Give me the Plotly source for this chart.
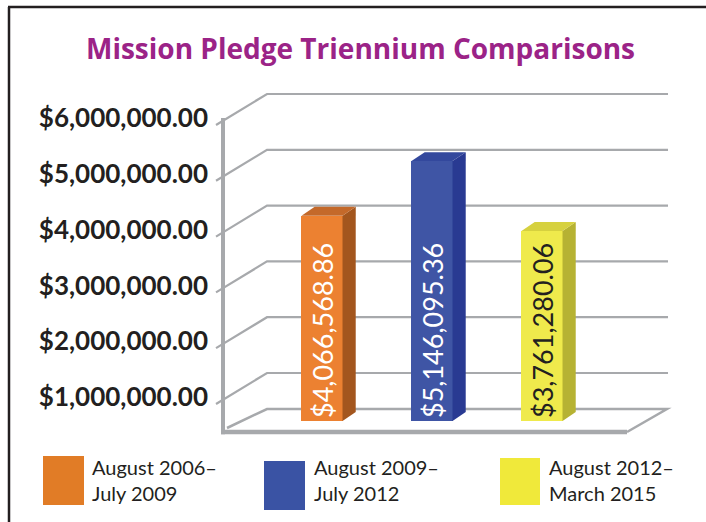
import plotly.graph_objects as go

# ---------------- data ----------------
TITLE = "Mission Pledge Triennium Comparisons"
PERIODS = ["August 2006–July 2009", "August 2009–July 2012", "August 2012–March 2015"]
LEGEND_LABELS = ["August 2006–<br>July 2009", "August 2009–<br>July 2012", "August 2012–<br>March 2015"]
PLEDGES = [4066568.86, 5146095.36, 3761280.06]
TICK_VALUES = [1e6, 2e6, 3e6, 4e6, 5e6, 6e6]

# ---------------- styles ----------------
FRONT_COLORS = ["#EC8131", "#3F55A5", "#EFEA4C"]
SIDE_COLORS = ["#A3561E", "#293A92", "#B6B233"]
TOP_COLORS = ["#C4692A", "#33489D", "#D6D13F"]
LEGEND_COLORS = ["#E17C26", "#3A53A4", "#F0E93A"]
TEXT_COLORS = ["#FFFFFF", "#FFFFFF", "#231F20"]
GRID_COLOR = "#A7A9AC"
INK = "#231F20"
TITLE_COLOR = "#9B2387"

W, H = 706, 522
X_RANGE = [-2.9273, 3.4909]          # 110 px per category
Y_RANGE = [-2.0e6, 8.3366e6]         # bar scale
Y2_RANGE = [-1.2401e6, 8.1147e6]     # wall / tick scale
BAR_WIDTH = 0.373
DEPTH_X = 0.12
DEPTH_Y = 0.178e6

# wall geometry (x in category units, y in y2 units)
TICK_X0, BACK_X0, BACK_X1 = -0.9636, -0.5, 3.1455
BACK_DY, TICK_DY = 0.43e6, -0.125e6
WALL_X = -0.9
FLOOR_FRONT, FLOOR_BACK, FLOOR_LEFT = 0.3728e6, 0.7849e6, 0.4444e6
FLOOR_X0, FLOOR_XL, FLOOR_X1, FLOOR_XR = -0.918, -0.8636, 2.7727, 3.136

xs = list(range(len(PERIODS)))

fig = go.Figure()

# front faces
fig.add_trace(go.Bar(
    x=xs, y=PLEDGES, width=BAR_WIDTH,
    marker=dict(color=FRONT_COLORS, line=dict(width=0)),
    text=[f"${v:,.2f}" for v in PLEDGES],
    textposition="inside", insidetextanchor="start", textangle=-90,
    insidetextfont=dict(family="Lato", size=27, color=TEXT_COLORS),
    hoverinfo="skip", showlegend=False, cliponaxis=False,
))

# side and top faces
for i, (x, v) in enumerate(zip(xs, PLEDGES)):
    r = x + BAR_WIDTH / 2
    l = x - BAR_WIDTH / 2
    fig.add_trace(go.Scatter(
        x=[r, r + DEPTH_X, r + DEPTH_X, r, r],
        y=[0, DEPTH_Y, v + DEPTH_Y, v, 0],
        fill="toself", fillcolor=SIDE_COLORS[i], mode="lines",
        line=dict(width=0), hoverinfo="skip", showlegend=False))
    fig.add_trace(go.Scatter(
        x=[l, l + DEPTH_X, r + DEPTH_X, r, l],
        y=[v, v + DEPTH_Y, v + DEPTH_Y, v, v],
        fill="toself", fillcolor=TOP_COLORS[i], mode="lines",
        line=dict(width=0), hoverinfo="skip", showlegend=False))

shapes = []
# gridlines on the back wall with slanted connectors
for t in TICK_VALUES:
    shapes.append(dict(
        type="path", xref="x", yref="y2", layer="below",
        path=f"M {TICK_X0},{t + TICK_DY} L {BACK_X0},{t + BACK_DY} L {BACK_X1},{t + BACK_DY}",
        line=dict(color=GRID_COLOR, width=2.2)))
# floor
shapes.append(dict(
    type="path", xref="x", yref="y2", layer="below",
    path=(f"M {FLOOR_XL},{FLOOR_LEFT} L {BACK_X0},{FLOOR_BACK} L {FLOOR_XR},{FLOOR_BACK} "
          f"L {FLOOR_X1},{FLOOR_FRONT}"),
    line=dict(color=GRID_COLOR, width=2.5)))
shapes.append(dict(
    type="line", xref="x", yref="y2", layer="below",
    x0=FLOOR_X0, x1=FLOOR_X1, y0=FLOOR_FRONT, y1=FLOOR_FRONT,
    line=dict(color=GRID_COLOR, width=4.5)))
# left wall
shapes.append(dict(
    type="line", xref="x", yref="y2", layer="below",
    x0=WALL_X, x1=WALL_X, y0=FLOOR_FRONT - 0.04e6, y1=TICK_VALUES[-1],
    line=dict(color=GRID_COLOR, width=4)))
# frame
shapes.append(dict(type="line", xref="paper", yref="paper",
                   x0=8 / W, x1=1, y0=1 - 7 / H, y1=1 - 7 / H,
                   line=dict(color=INK, width=2.5)))
shapes.append(dict(type="line", xref="paper", yref="paper",
                   x0=9 / W, x1=9 / W, y0=0, y1=1 - 7 / H,
                   line=dict(color=INK, width=2.5)))

# legend swatches
SW_BOX = [(43, 456, 84, 505), (264, 461, 305, 510), (500, 458, 540, 505)]
TXT_X = [90, 312, 547]
annotations = []
for i, lab in enumerate(LEGEND_LABELS):
    x0, y0, x1, y1 = SW_BOX[i]
    shapes.append(dict(type="rect", xref="paper", yref="paper",
                       x0=x0 / W, x1=x1 / W, y0=1 - y1 / H, y1=1 - y0 / H,
                       fillcolor=LEGEND_COLORS[i], line=dict(width=0)))
    annotations.append(dict(
        text=lab, xref="paper", yref="paper", x=TXT_X[i] / W, y=1 - 480 / H,
        xanchor="left", yanchor="middle", align="left", showarrow=False,
        font=dict(family="Lato", size=20, color=INK)))

annotations.append(dict(
    text=f"<b>{TITLE}</b>", xref="paper", yref="paper", x=360 / W, y=1 - 48 / H,
    xanchor="center", yanchor="middle", showarrow=False,
    font=dict(family="Open Sans", size=28, color=TITLE_COLOR)))

fig.update_layout(
    width=W, height=H, autosize=False,
    margin=dict(l=0, r=0, t=0, b=0),
    paper_bgcolor="white", plot_bgcolor="white",
    showlegend=False, bargap=0,
    xaxis=dict(range=X_RANGE, visible=False, fixedrange=True),
    yaxis=dict(range=Y_RANGE, visible=False, fixedrange=True),
    yaxis2=dict(range=Y2_RANGE, overlaying="y", anchor="free", position=208 / W,
                side="left", tickvals=TICK_VALUES, tickformat="$,.2f",
                showgrid=False, zeroline=False, showline=False, ticks="",
                tickfont=dict(family="Lato", size=26, color=INK, weight="bold"),
                fixedrange=True),
    shapes=shapes, annotations=annotations,
)

fig.write_html("out.html", config={"displayModeBar": False},
               post_script="document.body.style.margin='0';")
